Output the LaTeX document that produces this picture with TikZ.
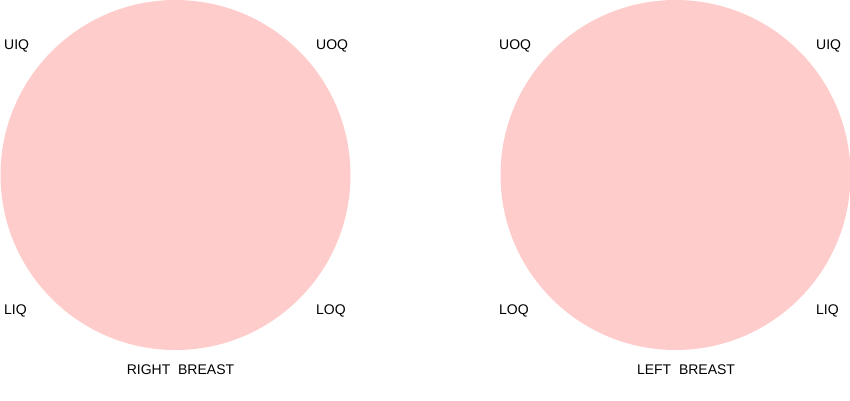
\documentclass[tikz,border=0pt]{standalone}
\usepackage{fontspec}
\setmainfont{Liberation Sans}
\usepackage{xcolor}
\usetikzlibrary{positioning}
\definecolor{breastpink}{HTML}{FFCCCC}

\begin{document}
\begin{tikzpicture}[
    x=1pt,y=-1pt,
    breast/.style={circle,fill=breastpink,draw=none,minimum size=350pt,inner sep=0pt},
    quad/.style={anchor=west,inner sep=0pt,font=\fontsize{14}{14}\selectfont},
    caption/.style={inner sep=0pt,font=\fontsize{14}{14}\selectfont},
]
\useasboundingbox (0,0) rectangle (850,400);
% right breast
\node[breast] (rb) at (175.5,175) {};
\node[quad] (ruiq) at (4,46) {UIQ};
\node[quad] (ruoq) at (316,46) {UOQ};
\node[quad] (rliq) at (4,311) {LIQ};
\node[quad] (rloq) at (316,311) {LOQ};
\node[caption] (rcap) at (180.5,370) {RIGHT\ \ BREAST};
% left breast
\node[breast] (lb) at (675.5,175) {};
\node[quad] (luoq) at (499,46) {UOQ};
\node[quad] (luiq) at (816,46) {UIQ};
\node[quad] (lloq) at (499,311) {LOQ};
\node[quad] (lliq) at (816,311) {LIQ};
\node[caption] (lcap) at (686,370) {LEFT\ \ BREAST};
\end{tikzpicture}
\end{document}
